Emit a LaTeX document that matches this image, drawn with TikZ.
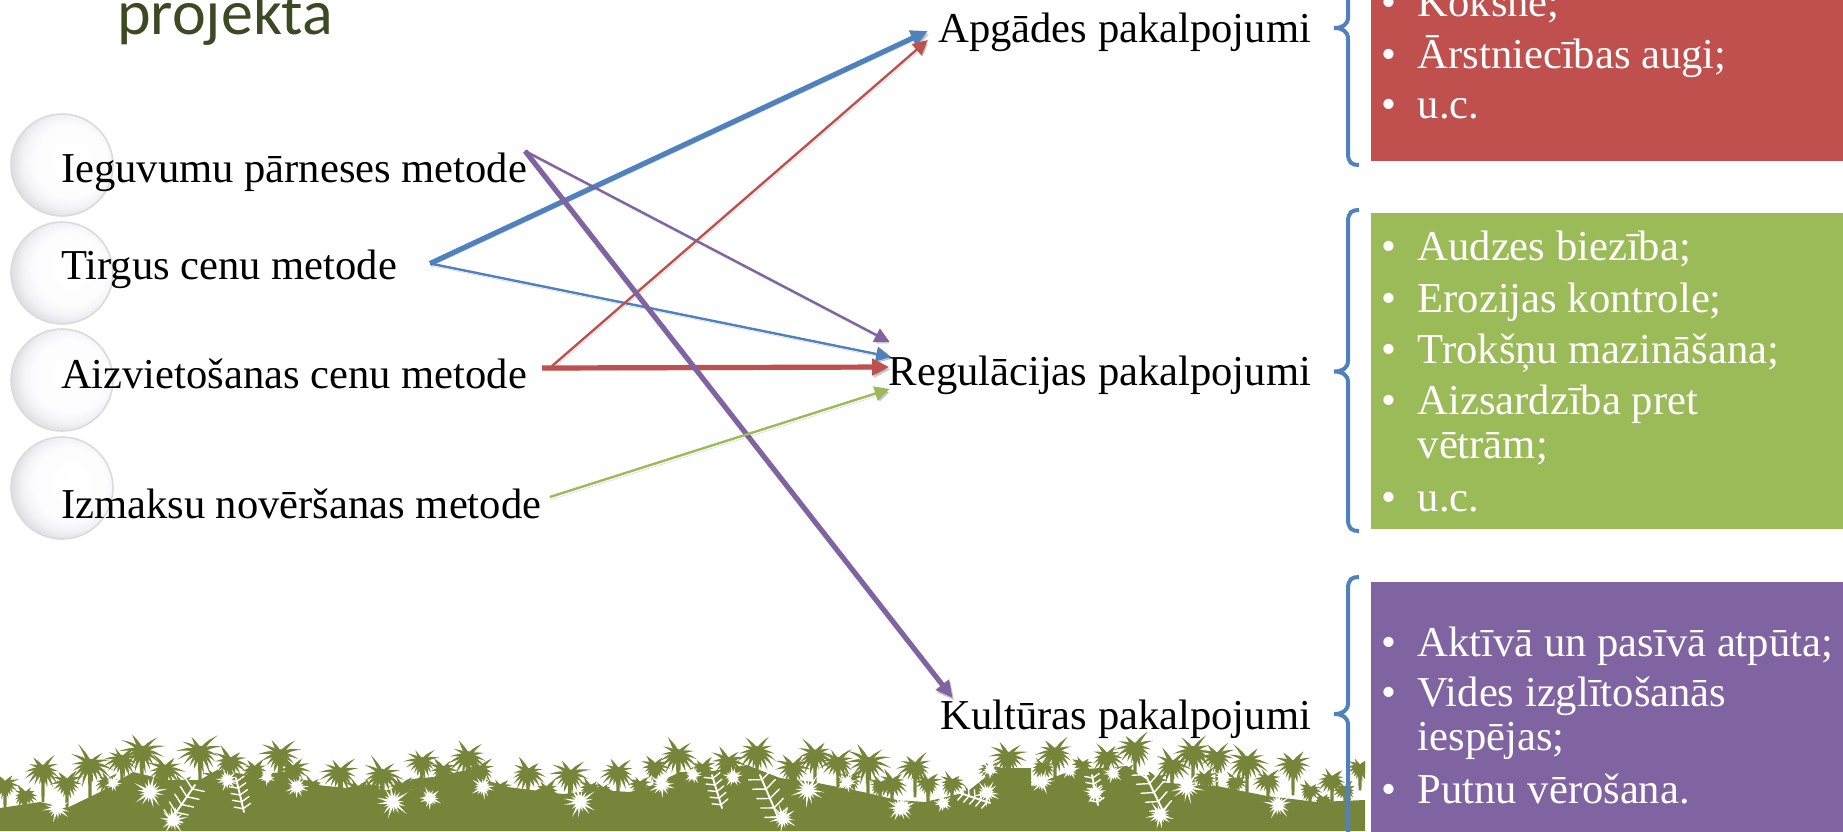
\documentclass[tikz,border=0pt]{standalone}
\usepackage{fontspec}
\setmainfont{Liberation Serif}
\newfontfamily\titlefont{Carlito}
\usetikzlibrary{arrows.meta,calc}
\definecolor{bluec}{HTML}{4F81BD}
\definecolor{redc}{HTML}{C0504D}
\definecolor{greenc}{HTML}{9BBB59}
\definecolor{purplec}{HTML}{8064A2}
\definecolor{grassc}{HTML}{77853A}
\definecolor{titlec}{HTML}{3B4A22}
\pgfdeclareradialshading{bubble}{\pgfpoint{6bp}{3bp}}{%
  rgb(0bp)=(1,1,1);rgb(18bp)=(0.99,0.99,0.995);rgb(23bp)=(0.95,0.95,0.96);rgb(27bp)=(0.88,0.88,0.90);rgb(31bp)=(0.83,0.83,0.85);rgb(50bp)=(0.83,0.83,0.85)}
\tikzset{
  bodytxt/.style={inner sep=0pt,outer sep=0pt,font=\fontsize{42.6}{42.6}\selectfont,text=black},
  listtxt/.style={inner sep=0pt,outer sep=0pt,font=\fontsize{42.6}{42.6}\selectfont,text=white},
  sphere/.style={circle,minimum size=102pt,inner sep=0pt,shading=bubble,draw=black!14,line width=1.6pt},
  shadowed/.style={preaction={draw=black,opacity=.2,transform canvas={shift={(1.5pt,-2.5pt)}}}},
  thickarrow/.style={shadowed,line width=5.2pt,-{Triangle[length=17pt,width=16pt]}},
  thinarrow/.style={shadowed,line width=2.4pt,-{Triangle[length=15pt,width=14.5pt]}},
  bracec/.style={draw=bluec,line width=4pt,line cap=butt}
}
% dark tuft: x y r
\newcommand\gtuft[3]{%
  \pgfmathsetmacro\tuftoff{mod(#1*7,14)}%
  \foreach \a in {-190,-170,...,10,35,60,120,145}{%
    \pgfmathsetmacro\ang{\a+\tuftoff-7}%
    \pgfmathsetmacro\len{#3*(0.86+0.14*sin(3*\a+#1*5))}%
    \pgfmathsetmacro\bend{0.28*\len*cos(\ang)}%
    \fill[grassc,shift={(#1,#2)},rotate=\ang] (0,-2.6) .. controls ({.5*\len},{-1.5}) .. (\len,\bend) .. controls ({.5*\len},{1.5}) .. (0,2.6) -- cycle;
  }%
  \fill[grassc] (#1,#2) circle ({.22*#3+1});
  \fill[grassc] ({#1-2},#2) -- ({#1+2},#2) -- ({#1+1.4},{#2+1.6*#3}) -- ({#1-1.4},{#2+1.6*#3}) -- cycle;
}
% white tuft: x y r
\newcommand\wtuft[3]{%
  \foreach \a in {0,22,...,340}{%
    \pgfmathsetmacro\len{#3*(0.78+0.22*sin(5*\a+#1*3))}%
    \fill[white,shift={(#1,#2)},rotate={\a+#1}] (0,-1.9) -- (\len,0) -- (0,1.9) -- cycle;
  }%
  \fill[white] (#1,#2) circle ({.3*#3});
}
% white branch: x1 y1 x2 y2
\newcommand\wbranch[4]{%
  \draw[white,line width=1.9pt,line cap=round] (#1,#2) -- (#3,#4);
  \foreach \t in {0.1,0.3,0.5,0.7,0.9}{%
    \draw[white,line width=1.4pt,line cap=round] ($(#1,#2)!\t!(#3,#4)$) -- ++({(#3-#1)*.1+(#4-#2)*.24},{(#4-#2)*.1-(#3-#1)*.24});
    \draw[white,line width=1.4pt,line cap=round] ($(#1,#2)!\t!(#3,#4)$) -- ++({(#3-#1)*.1-(#4-#2)*.24},{(#4-#2)*.1+(#3-#1)*.24});
  }%
}
% brace: top mid bottom
\newcommand\bracepath[3]{%
  \draw[bracec] (1359,#1) .. controls (1352,#1) and (1348,{#1+2}) .. (1348,{#1+12})
   -- (1348,{#2-11}) .. controls (1348,{#2-3}) and (1342,#2) .. (1334,#2)
   .. controls (1342,#2) and (1348,{#2+3}) .. (1348,{#2+11})
   -- (1348,{#3-12}) .. controls (1348,{#3-2}) and (1352,#3) .. (1359,#3);
}
\newcommand\litem[3]{%
  \node[listtxt,anchor=base] (#1b) at (1389,#2) {•};
  \node[listtxt,anchor=base west] (#1) at (1417.7,#2) {#3};
}
\begin{document}
\begin{tikzpicture}[x=1pt,y=-1pt]
\useasboundingbox (0,0) rectangle (1843,831);
\clip (0,0) rectangle (1843,831);
% grass
\begin{scope}
\clip (0,700) rectangle (1365,831);
\fill[grassc] (0,808) -- (40,802) -- (67,808) -- (100,792) -- (133,772) -- (167,780) -- (200,780) -- (217,770) -- (250,775) -- (283,772) -- (317,785) -- (367,790) -- (412,790) -- (412,779) -- (433,777) -- (467,770) -- (500,786) -- (563,794) -- (597,790) -- (630,792) -- (653,785) -- (680,772) -- (707,772) -- (747,765) -- (780,778) -- (813,782) -- (863,792) -- (897,800) -- (925,802) -- (967,792) -- (997,768) -- (1031,768) -- (1031,786) -- (1073,770) -- (1127,766) -- (1150,782) -- (1217,786) -- (1267,796) -- (1317,802) -- (1365,800) -- (1365,831) -- (0,831) -- cycle;
\foreach \tx/\ty/\tr in {43/770/20,5/785/15,90/765/24,122/760/19,142/752/24,165/770/21,67/783/17,200/752/24,230/762/19,255/770/15,280/755/22,293/770/18,340/773/21,358/790/16,382/775/23,402/787/15,422/762/18,443/770/15,468/757/22,480/770/17,528/773/19,570/775/21,547/790/14,590/788/13,618/772/19,603/790/10,655/767/15,678/755/22,703/768/14,728/762/19,757/752/22,793/768/19,815/755/21,838/762/19,868/763/24,892/783/17,915/767/19,928/783/14,952/783/14,990/770/12,1008/757/20,1043/767/13,1055/753/21,1082/765/11,1107/757/18,1135/748/21,1172/765/20,1193/752/23,1217/757/19,1247/762/23,1268/780/16,1293/765/19,1323/800/10,1332/780/16,1360/768/14,
 25/795/13,108/782/14,182/785/14,215/778/13,312/785/12,372/790/13,415/785/12,500/788/12,640/785/12,748/780/13,850/780/14,880/785/12,970/795/12,1020/780/12,1125/775/14,1155/780/13,1205/778/14,1235/782/13,1310/790/12,1345/790/12}{\gtuft{\tx}{\ty}{\tr}}
\foreach \tx/\ty/\tr in {57/808/15,150/792/18,113/783/9,173/820/15,227/780/12,267/777/9,297/787/13,393/802/18,430/798/12,483/787/13,580/802/18,662/785/14,693/775/10,733/777/11,783/818/15,808/790/18,847/782/11,900/808/15,903/807/12,943/803/10,990/770/9,987/793/14,1042/782/13,1070/770/10,1095/793/12,1113/773/11,1160/815/15,1187/787/18,1223/778/10,1278/805/15}{\wtuft{\tx}{\ty}{\tr}}
\wbranch{168}{824}{195}{785}
\wbranch{244}{812}{236}{778}
\wbranch{722}{808}{712}{775}
\wbranch{780}{822}{760}{775}
\wbranch{1165}{815}{1143}{770}
\wbranch{1098}{805}{1092}{775}
\wbranch{990}{803}{960}{793}
\end{scope}
% spheres
\node[sphere] (c1) at (62,165) {};
\node[sphere] (c2) at (62,273) {};
\node[sphere] (c3) at (62,380) {};
\node[sphere] (c4) at (62,488) {};
% title
\node[inner sep=0pt,anchor=base west,text=titlec,font=\titlefont\fontsize{64}{64}\selectfont] (title) at (117,34.5) {projekta};
% left labels
\node[bodytxt,anchor=base west] (iegu) at (61,182.5) {Ieguvumu pārneses metode};
\node[bodytxt,anchor=base west] (tirg) at (61,279.5) {Tirgus cenu metode};
\node[bodytxt,anchor=base west] (aizv) at (61,388.5) {Aizvietošanas cenu metode};
\node[bodytxt,anchor=base west] (izma) at (61,518.5) {Izmaksu novēršanas metode};
% middle labels
\node[bodytxt,anchor=base east] (apga) at (1311,42.5) {Apgādes pakalpojumi};
\node[bodytxt,anchor=base east] (regu) at (1311,385.5) {Regulācijas pakalpojumi};
\node[bodytxt,anchor=base east] (kult) at (1311,729.5) {Kultūras pakalpojumi};
% connectors
\draw[thickarrow,bluec] ([shift={(33,-16)}]tirg.base east) -- ([shift={(-10.5,-11.5)}]apga.base west);
\draw[thinarrow,bluec] ([shift={(33,-16)}]tirg.base east) -- ([shift={(2.5,-28.5)}]regu.base west);
\draw[thinarrow,redc] ([shift={(25,-22.5)}]aizv.base east) -- ([shift={(-10.5,-2.5)}]apga.base west);
\draw[thickarrow,redc] ([shift={(15,-20.5)}]aizv.base east) -- ([shift={(0.5,-18.5)}]regu.base west);
\draw[thinarrow,purplec] ([shift={(-2,-31.5)}]iegu.base east) -- ([shift={(1,-43.5)}]regu.base west);
\draw[thickarrow,purplec] ([shift={(-2,-31.5)}]iegu.base east) -- ([shift={(12,-31.5)}]kult.base west);
\draw[thinarrow,greenc] ([shift={(8.5,-21.5)}]izma.base east) -- ([shift={(1,3.5)}]regu.base west);
% colour boxes
\fill[redc] (1370.7,-5) rectangle (1848,161);
\fill[greenc] (1370.7,213.3) rectangle (1848,529);
\fill[purplec] (1370.7,581.7) rectangle (1848,836);
% braces
\bracepath{-109}{28}{165}
\bracepath{210}{371.5}{531}
\bracepath{577}{714}{851}
% lists
\litem{r1}{16.5}{Koksne;}
\litem{r2}{68.2}{Ārstniecības augi;}
\litem{r3}{118.5}{u.c.}
\litem{g1}{260.8}{Audzes biezība;}
\litem{g2}{312.2}{Erozijas kontrole;}
\litem{g3}{363.5}{Trokšņu mazināšana;}
\litem{g4}{414.5}{Aizsardzība pret}
\node[listtxt,anchor=base west] (g4b2) at (1417.7,458.2) {vētrām;};
\litem{g5}{511.5}{u.c.}
\litem{p1}{656.5}{Aktīvā un pasīvā atpūta;}
\litem{p2}{706.5}{Vides izglītošanās}
\node[listtxt,anchor=base west] (p2b2) at (1417.7,750.5) {iespējas;};
\litem{p3}{803.2}{Putnu vērošana.}
\end{tikzpicture}
\end{document}
